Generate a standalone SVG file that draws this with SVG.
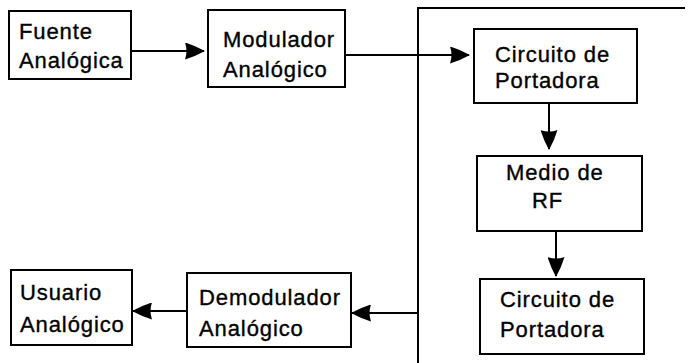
<svg xmlns="http://www.w3.org/2000/svg" width="690" height="363" viewBox="0 0 690 363">
<style>
  .box { fill: #fff; stroke: #000; stroke-width: 2; }
  .lbl { font-family: "Liberation Sans", Arial, sans-serif; font-size: 22px; letter-spacing: 0.9px; fill: #000; stroke: #000; stroke-width: 0.35px; }
  .conn { fill: none; stroke: #000; stroke-width: 2; }
</style>
<defs>
  <marker id="ah" markerUnits="userSpaceOnUse" markerWidth="20" markerHeight="17" viewBox="0 0 20 17" refX="19" refY="8.5" orient="auto">
    <path d="M0,0 Q10,3 20,8.5 Q10,14 0,17 Q3,8.5 0,0 Z" fill="#000"/>
  </marker>
</defs>
<rect width="690" height="363" fill="#fff"/>
<g id="connectors">
  <path class="conn" d="M685,8 H418 V363"/>
  <line class="conn" x1="131" y1="51" x2="204" y2="51" marker-end="url(#ah)"/>
  <line class="conn" x1="345" y1="55" x2="469" y2="55" marker-end="url(#ah)"/>
  <line class="conn" x1="549" y1="103" x2="549" y2="149" marker-end="url(#ah)"/>
  <line class="conn" x1="556" y1="231" x2="556" y2="276" marker-end="url(#ah)"/>
  <line class="conn" x1="418" y1="313" x2="352" y2="313" marker-end="url(#ah)"/>
  <line class="conn" x1="187" y1="311" x2="133" y2="311" marker-end="url(#ah)"/>
</g>
<g id="fuente">
  <rect class="box" x="9" y="11" width="122" height="68"/>
  <text class="lbl" x="19" y="39">Fuente</text>
  <text class="lbl" x="19" y="68">Analógica</text>
</g>
<g id="modulador">
  <rect class="box" x="208" y="10" width="137" height="77"/>
  <text class="lbl" x="223" y="47">Modulador</text>
  <text class="lbl" x="223" y="77">Analógico</text>
</g>
<g id="circuito1">
  <rect class="box" x="474" y="29" width="163" height="74"/>
  <text class="lbl" x="495" y="62">Circuito de</text>
  <text class="lbl" x="495" y="88">Portadora</text>
</g>
<g id="medio">
  <rect class="box" x="477" y="156" width="165" height="75"/>
  <text class="lbl" x="506" y="180">Medio de</text>
  <text class="lbl" x="532" y="208">RF</text>
</g>
<g id="circuito2">
  <rect class="box" x="480" y="279" width="164" height="75"/>
  <text class="lbl" x="500" y="307">Circuito de</text>
  <text class="lbl" x="500" y="337">Portadora</text>
</g>
<g id="demodulador">
  <rect class="box" x="187" y="273" width="164" height="74"/>
  <text class="lbl" x="199" y="305">Demodulador</text>
  <text class="lbl" x="199" y="336">Analógico</text>
</g>
<g id="usuario">
  <rect class="box" x="11" y="270" width="121" height="75"/>
  <text class="lbl" x="20" y="300">Usuario</text>
  <text class="lbl" x="20" y="332">Analógico</text>
</g>
</svg>
